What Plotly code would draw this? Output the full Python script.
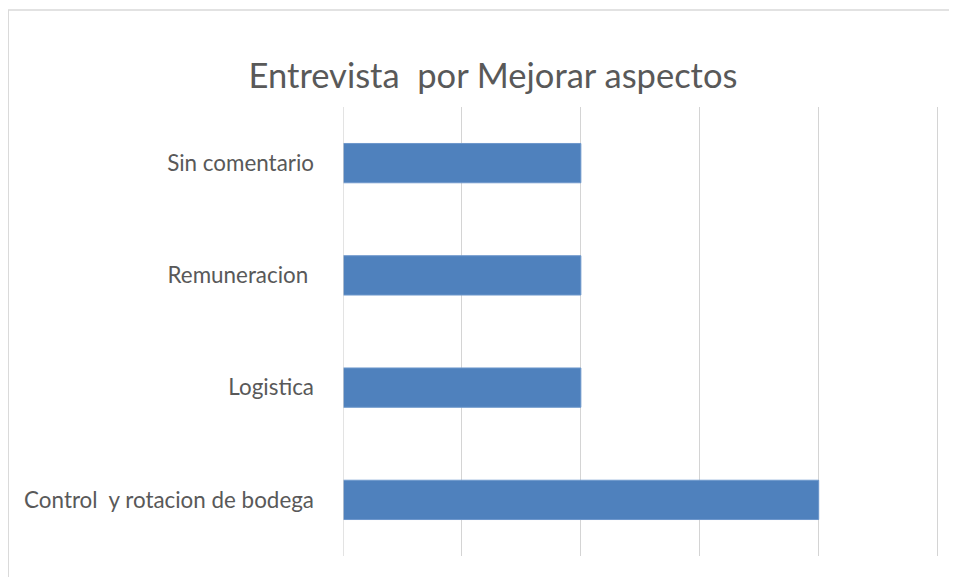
import plotly.graph_objects as go

# categories listed bottom -> top (plotly draws horizontal categories upward)
categorias = ["Control  y rotacion de bodega", "Logistica", "Remuneracion ", "Sin comentario"]
valores = [4, 2, 2, 2]
titulo = "Entrevista  por Mejorar aspectos"

# page body has an 8px margin, so the figure is a bit smaller and shifted
OFF = 8
XMAX = 5.02          # a hair past 5 so the last gridline is drawn
UNIT = 119           # px per unit in the reference
W, H = 957 - OFF, 577 - OFF
L, T, B = 343 - OFF, 107 - OFF, 21
R = W - L - XMAX * UNIT
pw, ph = W - L - R, H - T - B

def px_x(x):
    return (x - OFF - L) / pw

def px_y(y):
    return (OFF + H - B - y) / ph

fig = go.Figure()
fig.add_trace(go.Bar(
    x=valores,
    y=categorias,
    orientation="h",
    marker=dict(color="#4f81bd", line=dict(color="#6d97cc", width=1)),
    hoverinfo="x+y",
))

fig.update_layout(
    width=W, height=H,
    margin=dict(l=L, r=R, t=T, b=B),
    paper_bgcolor="white",
    plot_bgcolor="white",
    font=dict(family="Lato, Open Sans, sans-serif", color="#595959"),
    title=dict(text=titulo, x=(493 - OFF) / W, xanchor="center", y=1 - (76 - OFF) / H,
               yanchor="middle", font=dict(size=34.5, color="#595959")),
    bargap=0.65,
    showlegend=False,
    xaxis=dict(range=[0, XMAX], dtick=1, showgrid=True, gridcolor="#d4d4d4", gridwidth=1.3,
               showticklabels=False, zeroline=False, showline=False, fixedrange=True),
    yaxis=dict(showgrid=False, showline=False, ticks="", ticklabelstandoff=28,
               tickfont=dict(size=22.4, color="#595959"), fixedrange=True),
    shapes=[
        dict(type="line", xref="x", yref="paper", x0=0, x1=0, y0=0, y1=1,
             line=dict(color="#d4d4d4", width=1.3)),
        dict(type="rect", xref="paper", yref="paper",
             x0=px_x(8), x1=px_x(990), y0=px_y(600), y1=px_y(10),
             line=dict(color="#d9d9d9", width=1.5), layer="below"),
    ],
)

fig.write_html("out.html")
